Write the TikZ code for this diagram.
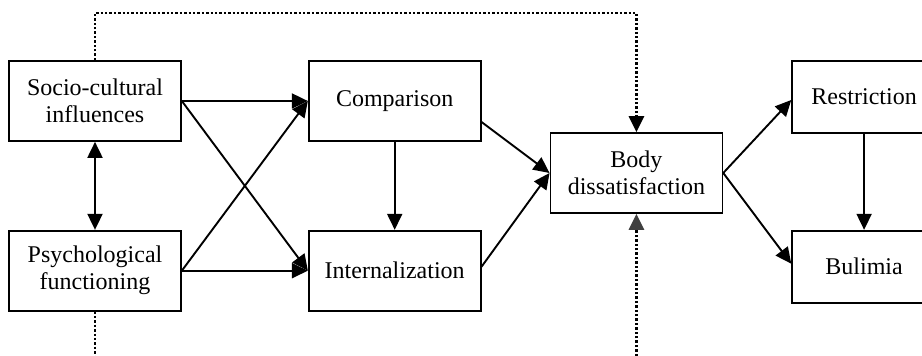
\documentclass[tikz,border=0pt]{standalone}
\usepackage{fontspec}
\setmainfont{Liberation Serif}
\usetikzlibrary{arrows.meta,positioning}

\begin{document}
\begin{tikzpicture}[
  node distance=44pt and 63pt,
  box/.style={rectangle, draw=black, line width=0.85pt, minimum width=86pt,
              minimum height=40pt, inner sep=1pt, align=center,
              font=\fontsize{12}{13.5}\selectfont},
  smallbox/.style={box, minimum width=72pt, minimum height=36pt},
  arr/.style={-{Triangle[length=8pt, width=7.5pt]}, line width=0.95pt},
  dblarr/.style={{Triangle[length=8pt, width=7.5pt]}-{Triangle[length=8pt, width=7.5pt]}, line width=0.95pt},
  dotline/.style={line width=1.4pt, dash pattern=on 1.2pt off 1pt},
  dotarr/.style={dotline, -{Triangle[length=8pt, width=7.5pt]}}
]
\useasboundingbox (0,0) rectangle (461pt,-178pt);

\node[box] (socio) at (47.5pt,-50.5pt) {Socio-cultural\\influences};
\node[box, below=of socio] (psych) {Psychological\\functioning};
\node[box, right=of socio] (comp) {Comparison};
\node[box, right=of psych] (intern) {Internalization};
\node[box, right=34pt of comp, yshift=-36pt] (body) {Body\\dissatisfaction};
\node[smallbox, right=34pt of body, yshift=38pt] (restr) {Restriction};
\node[smallbox, below=48pt of restr] (bulim) {Bulimia};

\coordinate (toprow) at (0,-6.5pt);
\coordinate (botrow) at (0,-178pt);

\draw[dblarr] (socio) -- (psych);
\draw[arr] (socio.east) -- (comp.west);
\draw[arr] (socio.east) -- (intern.west);
\draw[arr] (psych.east) -- (comp.west);
\draw[arr] (psych.east) -- (intern.west);
\draw[arr] (comp) -- (intern);
\draw[arr] ([yshift=-10.5pt]comp.east) -- (body.west);
\draw[arr] ([yshift=2pt]intern.east) -- (body.west);
\draw[arr] (body.east) -- ([yshift=-1.5pt]restr.west);
\draw[arr] (body.east) -- ([yshift=1.5pt]bulim.west);
\draw[arr] (restr) -- (bulim);

% dotted paths
\draw[dotarr] (socio.north) -- (socio.north |- toprow) -| (body.north);
\draw[dotline] (psych.south) -- (psych.south |- botrow);
\draw[dotline, -{Triangle[length=8pt, width=7.5pt, color=black!75]}] (body.south |- botrow) -- (body.south);

\end{tikzpicture}
\end{document}
